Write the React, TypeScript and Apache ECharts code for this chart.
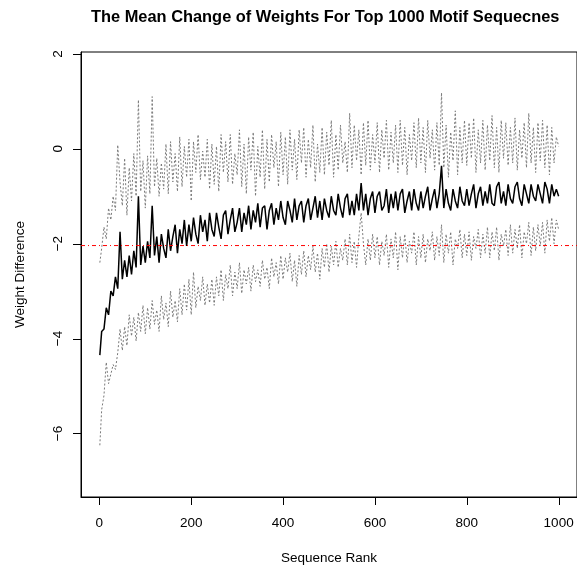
import React, { useEffect, useRef } from "react";
import * as echarts from "echarts";

// Sequence ranks sampled every 5 (first point is rank 1)
const rankStep = 5;

// Mean weight difference (black solid line)
const meanValues = [
  -4.35, -3.85, -3.8, -3.35, -3.5, -3.0, -3.1, -2.7, -2.95, -1.75,
  -2.75, -2.35, -2.7, -2.25, -2.65, -2.15, -2.5, -1.0, -2.45, -2.05,
  -2.4, -1.95, -2.3, -1.2, -2.25, -1.85, -2.4, -1.8, -2.1, -2.3,
  -1.7, -2.15, -1.85, -1.6, -2.2, -1.7, -2.0, -1.5, -2.05, -1.6,
  -1.95, -1.45, -1.8, -2.0, -1.4, -1.75, -1.5, -1.95, -1.35, -1.7,
  -1.85, -1.35, -1.65, -1.9, -1.4, -1.3, -1.8, -1.5, -1.25, -1.75,
  -1.55, -1.25, -1.75, -1.35, -1.6, -1.2, -1.7, -1.3, -1.55, -1.15,
  -1.65, -1.25, -1.2, -1.7, -1.3, -1.15, -1.6, -1.25, -1.5, -1.1,
  -1.45, -1.6, -1.1, -1.3, -1.55, -1.05, -1.5, -1.2, -1.1, -1.55,
  -1.2, -1.05, -1.5, -1.25, -1.0, -1.45, -1.1, -1.5, -1.05, -1.3,
  -1.45, -1.0, -1.3, -1.4, -0.95, -1.25, -1.45, -1.05, -0.95, -1.4,
  -1.1, -1.4, -0.95, -1.3, -0.72, -1.3, -0.95, -1.4, -1.05, -0.9,
  -1.35, -1.0, -0.9, -1.3, -1.2, -0.85, -1.35, -0.95, -1.25, -0.9,
  -1.3, -0.95, -0.85, -1.35, -1.1, -0.9, -1.3, -0.85, -1.15, -1.3,
  -0.9, -1.25, -1.0, -0.8, -1.3, -1.05, -0.85, -1.25, -0.95, -0.36,
  -1.25, -0.85, -1.15, -1.3, -0.85, -1.1, -1.25, -0.8, -1.1, -1.2,
  -0.85, -1.2, -0.95, -0.75, -1.25, -0.95, -0.8, -1.2, -0.9, -1.15,
  -0.75, -1.15, -1.2, -0.8, -0.7, -1.15, -0.9, -1.2, -0.75, -1.05,
  -1.15, -0.8, -0.7, -1.05, -1.2, -0.75, -0.95, -1.15, -0.75, -1.0,
  -1.1, -0.75, -0.95, -1.15, -0.7, -0.85, -1.15, -0.75, -1.0, -0.85,
  -1.0,
];

// Mean + spread (grey dotted, upper)
const upperValues = [
  -2.4, -2.1, -1.65, -1.9, -1.25, -1.5, -1.0, -1.3, 0.08, -0.7,
  -1.2, -0.2, -1.4, -0.4, -1.1, -0.1, -1.0, 1.03, -0.9, -0.25,
  -1.25, -0.15, -0.95, 1.1, -0.8, -0.2, -1.0, -0.3, -0.85, 0.1,
  -0.95, 0.15, -0.7, -0.1, -0.9, 0.25, -0.8, 0.05, -0.6, 0.2,
  -1.1, 0.15, -0.5, 0.3, -0.65, -0.05, -0.6, 0.2, -0.85, 0.1,
  -0.75, 0.05, -0.9, 0.3, -0.5, 0.15, -0.7, 0.3, -0.75, -0.1,
  -0.55, 0.4, -0.8, 0.1, -0.95, 0.25, -0.45, 0.35, -1.0, 0.05,
  -0.6, 0.4, -0.85, 0.2, -0.7, 0.3, -0.4, 0.15, -0.8, 0.35,
  -0.55, 0.25, -0.75, 0.4, -0.45, 0.2, -0.65, 0.4, -0.3, 0.45,
  -0.6, 0.2, -0.4, 0.5, -0.7, 0.1, -0.5, 0.45, -0.55, 0.35,
  -0.35, 0.6, -0.6, 0.3, -0.45, 0.5, -0.3, 0.15, -0.5, 0.75,
  -0.4, 0.5, -0.25, 0.4, -0.55, 0.55, -0.35, 0.6, -0.45, 0.3,
  -0.3, 0.55, -0.5, 0.4, -0.2, 0.6, -0.45, 0.35, -0.3, 0.5,
  -0.5, 0.6, -0.35, 0.45, -0.55, 0.3, -0.25, 0.55, -0.4, 0.65,
  -0.3, 0.45, -0.5, 0.6, -0.2, 0.4, -0.45, 0.55, -0.35, 1.18,
  -0.4, 0.5, -0.6, 0.35, -0.25, 0.8, -0.55, 0.45, -0.3, 0.6,
  -0.35, 0.55, -0.2, 0.65, -0.5, 0.4, -0.3, 0.6, -0.45, 0.5,
  -0.25, 0.7, -0.4, 0.45, -0.5, 0.6, -0.2, 0.55, -0.35, 0.45,
  -0.3, 0.65, -0.45, 0.4, -0.2, 0.55, -0.4, 0.75, -0.3, 0.45,
  -0.5, 0.55, -0.25, 0.6, -0.4, 0.5, -0.55, 0.45, -0.3, 0.25,
  0.05,
];

// Mean - spread (grey dotted, lower)
const lowerValues = [
  -6.25, -5.5, -5.2, -4.5, -4.95, -4.75, -4.55, -4.65, -4.3, -3.8,
  -4.25, -3.75, -4.15, -3.5, -3.95, -3.55, -4.05, -3.45, -3.85, -3.3,
  -3.9, -3.35, -3.8, -3.2, -3.7, -3.4, -3.85, -3.1, -3.6, -3.25,
  -3.75, -3.0, -3.55, -3.2, -3.65, -2.95, -3.5, -2.85, -3.4, -2.75,
  -3.5, -2.6, -3.35, -2.9, -3.2, -2.7, -3.3, -2.85, -3.25, -2.75,
  -3.3, -2.7, -3.1, -2.55, -3.2, -2.65, -2.95, -2.45, -3.1, -2.6,
  -2.95, -2.4, -3.05, -2.55, -2.85, -2.5, -3.0, -2.45, -2.8, -2.55,
  -2.9, -2.35, -2.75, -2.5, -2.95, -2.3, -2.7, -2.4, -2.85, -2.25,
  -2.75, -2.3, -2.6, -2.2, -2.8, -2.35, -2.9, -2.25, -2.65, -2.15,
  -2.7, -2.25, -2.55, -2.05, -2.6, -2.2, -2.75, -2.1, -2.5, -2.0,
  -2.6, -2.05, -2.45, -1.95, -2.5, -2.1, -2.35, -1.9, -2.45, -1.8,
  -2.4, -1.95, -2.5, -1.85, -1.35, -2.0, -2.45, -1.9, -2.35, -1.8,
  -2.3, -1.85, -2.45, -1.95, -2.25, -1.8, -2.5, -1.9, -2.3, -1.75,
  -2.55, -1.85, -2.3, -1.8, -2.4, -1.95, -2.2, -1.75, -2.45, -1.85,
  -2.3, -1.8, -2.4, -1.9, -2.15, -1.75, -2.35, -1.85, -2.25, -1.6,
  -2.4, -1.8, -2.2, -1.75, -2.45, -1.9, -2.1, -1.7, -2.3, -1.8,
  -2.25, -1.75, -2.35, -1.85, -2.1, -1.7, -2.3, -1.8, -2.2, -1.65,
  -2.3, -1.75, -2.15, -1.65, -2.35, -1.8, -2.05, -1.7, -2.25, -1.6,
  -2.2, -1.7, -2.1, -1.6, -2.3, -1.75, -2.0, -1.55, -2.25, -1.65,
  -2.15, -1.6, -2.05, -1.55, -2.2, -1.5, -1.95, -1.45, -2.0, -1.5,
  -1.7,
];

const referenceLine = -2.04;
const xTicks = [0, 200, 400, 600, 800, 1000];
const yTicks = [-6, -4, -2, 0, 2];
const xMin = -40;
const xMax = 1040;
const yMin = -7.34;
const yMax = 2.04;

const rankOf = (i: number) => (i === 0 ? 1 : i * rankStep);
const toPairs = (vals: number[]) => vals.map((v, i) => [rankOf(i), v]);

const FONT = "'Liberation Sans', Arial, Helvetica, sans-serif";
const TICK_LEN = 8;

export default function App() {
  const ref = useRef<HTMLDivElement>(null);
  useEffect(() => {
    if (!ref.current) return;
    const chart = echarts.init(ref.current, undefined, { renderer: "svg" });
    const greyLine = { color: "#7a7a7a", width: 1, type: [2, 2] };
    chart.setOption({
      animation: false,
      title: {
        text: "The Mean Change of Weights For Top 1000 Motif Sequecnes",
        left: 91,
        top: 8,
        padding: 0,
        textStyle: { fontFamily: FONT, fontWeight: "bold", fontSize: 16.4, color: "#000" },
      },
      grid: { left: 81, top: 52, width: 498, height: 446, show: true, borderColor: "#000", borderWidth: 1 },
      xAxis: {
        type: "value",
        min: xMin,
        max: xMax,
        axisLine: { show: true, onZero: false, lineStyle: { color: "#000", width: 1 } },
        splitLine: { show: false },
        axisTick: { show: false },
        axisLabel: {
          customValues: xTicks,
          fontFamily: FONT,
          fontSize: 13.5,
          color: "#000",
          margin: 18,
          formatter: (v: number) => String(v),
        },
        name: "Sequence Rank",
        nameLocation: "middle",
        nameGap: 53,
        nameTextStyle: { fontFamily: FONT, fontSize: 13.5, color: "#000" },
      },
      yAxis: {
        type: "value",
        min: yMin,
        max: yMax,
        axisLine: { show: true, onZero: false, lineStyle: { color: "#000", width: 1 } },
        splitLine: { show: false },
        axisTick: { show: false },
        axisLabel: {
          customValues: yTicks,
          rotate: 90,
          fontFamily: FONT,
          fontSize: 13.5,
          color: "#000",
          margin: 17,
          formatter: (v: number) => (v < 0 ? "\u2212" + Math.abs(v) : String(v)),
        },
        name: "Weight Difference",
        nameLocation: "middle",
        nameGap: 55,
        nameTextStyle: { fontFamily: FONT, fontSize: 13.5, color: "#000" },
      },
      series: [
        {
          type: "line",
          name: "mean",
          data: toPairs(meanValues),
          showSymbol: false,
          lineStyle: { color: "#000", width: 1.5 },
        },
        {
          type: "line",
          name: "upper",
          data: toPairs(upperValues),
          showSymbol: false,
          lineStyle: greyLine,
        },
        {
          type: "line",
          name: "lower",
          data: toPairs(lowerValues),
          showSymbol: false,
          lineStyle: greyLine,
        },
        {
          type: "line",
          name: "reference",
          data: [
            [xMin, referenceLine],
            [xMax, referenceLine],
          ],
          showSymbol: false,
          lineStyle: { color: "#ff0000", width: 1, type: [4, 3, 1, 3] },
        },
      ],
    });

    // Tick marks placed through the axes' own scales
    const bottomPx = chart.convertToPixel({ yAxisIndex: 0 }, yMin) as number;
    const leftPx = chart.convertToPixel({ xAxisIndex: 0 }, xMin) as number;
    const tickEls: any[] = [];
    xTicks.forEach((v) => {
      const px = Math.round(chart.convertToPixel({ xAxisIndex: 0 }, v) as number) + 0.5;
      tickEls.push({
        type: "line",
        z: 50,
        shape: { x1: px, y1: bottomPx, x2: px, y2: bottomPx + TICK_LEN },
        style: { stroke: "#000", lineWidth: 1 },
      });
    });
    yTicks.forEach((v) => {
      const py = Math.round(chart.convertToPixel({ yAxisIndex: 0 }, v) as number) + 0.5;
      tickEls.push({
        type: "line",
        z: 50,
        shape: { x1: leftPx - TICK_LEN, y1: py, x2: leftPx, y2: py },
        style: { stroke: "#000", lineWidth: 1 },
      });
    });
    chart.setOption({ graphic: tickEls });

    return () => chart.dispose();
  }, []);
  return <div ref={ref} style={{ position: "fixed", left: 0, top: 0, width: 577, height: 569 }} />;
}
